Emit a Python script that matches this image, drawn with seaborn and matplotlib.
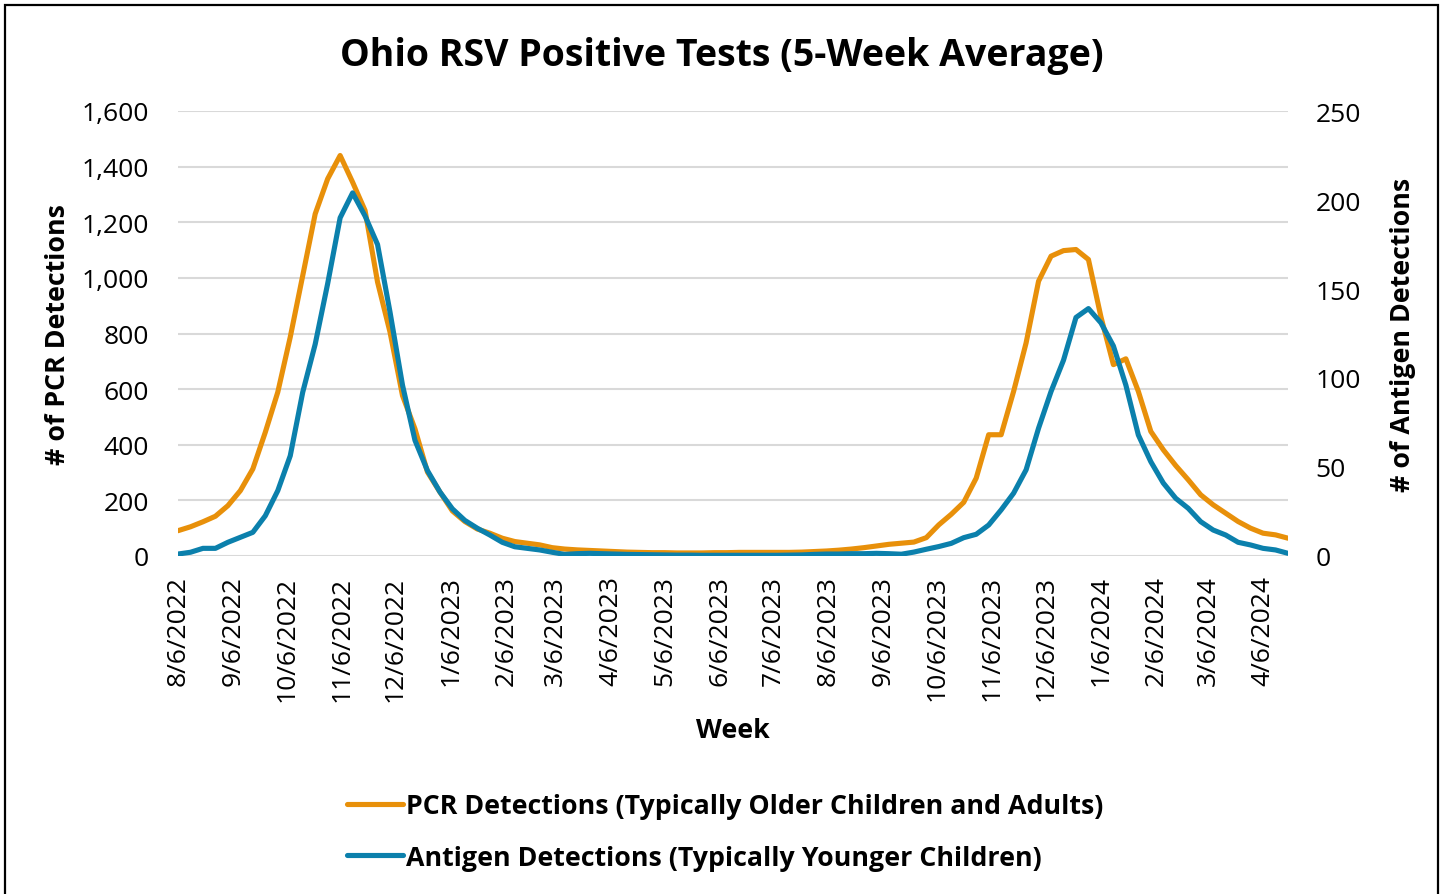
import matplotlib
matplotlib.use("Agg")
import matplotlib.pyplot as plt
import matplotlib.dates as mdates
from matplotlib.patches import Rectangle
from matplotlib.ticker import FuncFormatter, MultipleLocator
import seaborn as sns
import pandas as pd
import numpy as np

# ---- data (weekly, starting 8/6/2022) ----
start_date = "2022-08-06"
pcr = [91, 105, 123, 143, 181, 235, 313, 445, 589, 787,
       1008, 1230, 1356, 1440, 1344, 1242, 985, 805, 577, 457,
       302, 230, 162, 124, 97, 82, 64, 52, 46, 40,
       30, 25, 22, 20, 18, 16, 14, 13, 12, 12,
       11, 11, 11, 12, 12, 13, 13, 13, 13, 13,
       14, 16, 18, 21, 25, 30, 36, 42, 46, 50,
       66, 112, 150, 193, 280, 436, 436, 592, 766, 988,
       1078, 1098, 1102, 1066, 860, 688, 709, 592, 448, 382,
       325, 274, 220, 184, 154, 124, 100, 82, 76, 64]
antigen = [1.1, 2.1, 4.3, 4.3, 7.7, 10.5, 13.3, 22.6, 36.7, 56.3,
           92, 119, 153, 190, 204, 191, 175, 137, 96, 65,
           48, 36, 26.5, 20, 15.6, 11.8, 7.7, 5.2, 4.3, 3.4,
           2.1, 0.9, 1.3, 1.5, 1.3, 1.1, 0.9, 0.8, 0.7, 0.6,
           0.5, 0.5, 0.4, 0.4, 0.4, 0.4, 0.4, 0.4, 0.4, 0.5,
           0.6, 0.9, 1.1, 1.1, 1.3, 1.3, 1.5, 1.3, 1.0, 2.2,
           3.8, 5.3, 7.1, 10.3, 12.2, 17.4, 25.9, 35.3, 48.4, 71.8,
           92.4, 110, 134, 139, 131, 118, 96, 68, 53, 41,
           32.4, 26.8, 19.3, 14.6, 11.8, 7.7, 6.2, 4.3, 3.4, 1.5]
pcr_label = "PCR Detections (Typically Older Children and Adults)"
ant_label = "Antigen Detections (Typically Younger Children)"
title = "Ohio RSV Positive Tests (5-Week Average)"

weeks = pd.date_range(start_date, periods=len(pcr), freq="7D")
df = pd.DataFrame({"week": weeks, "pcr": pcr, "antigen": antigen})

ORANGE = "#E8900A"
BLUE = "#0B80AC"
FONT = ["Open Sans", "DejaVu Sans"]

sns.set_style("white")
plt.rcParams["font.family"] = FONT
plt.rcParams["text.color"] = "#000000"

fig = plt.figure(figsize=(14.45, 8.95), dpi=100)
W, H = 1445, 895
ax_left, ax_right, ax_top, ax_bot = 178, 1288, 112, 557
ax = fig.add_axes([ax_left / W, 1 - ax_bot / H, (ax_right - ax_left) / W, (ax_bot - ax_top) / H])
ax2 = ax.twinx()

sns.lineplot(data=df, x="week", y="pcr", ax=ax, color=ORANGE, linewidth=3.7,
             label=pcr_label, legend=False)
sns.lineplot(data=df, x="week", y="antigen", ax=ax2, color=BLUE, linewidth=3.7,
             label=ant_label, legend=False)
for ln in ax.lines + ax2.lines:
    ln.set_solid_joinstyle("round")
    ln.set_solid_capstyle("round")

ax.set_ylim(0, 1600)
ax2.set_ylim(0, 250)
ax.yaxis.set_major_locator(MultipleLocator(200))
ax2.yaxis.set_major_locator(MultipleLocator(50))
ax.set_xlim(weeks[0], weeks[-1])

ax.xaxis.set_major_locator(mdates.MonthLocator(bymonthday=6))
ax.xaxis.set_major_formatter(FuncFormatter(
    lambda v, p: (lambda d: f"{d.month}/{d.day}/{d.year}")(mdates.num2date(v))))

ax.yaxis.set_major_formatter(FuncFormatter(lambda v, p: f"{int(v):,}"))
ax2.yaxis.set_major_formatter(FuncFormatter(lambda v, p: f"{int(v)}"))

ax.grid(axis="y", color="#D9D9D9", linewidth=1.5)
ax.grid(axis="x", visible=False)
ax2.grid(False)
ax.set_axisbelow(True)
for a in (ax, ax2):
    for s in a.spines.values():
        s.set_visible(False)
    a.set_xlabel("")
    a.set_ylabel("")

TS = 19
LS = 19.3
ax.tick_params(axis="y", length=0, pad=21, labelsize=TS, labelcolor="#000000")
ax2.tick_params(axis="y", length=0, pad=20, labelsize=TS, labelcolor="#000000")
ax.tick_params(axis="x", length=0, pad=14, labelsize=TS, labelrotation=90, labelcolor="#000000")

fig.text(722 / W, 1 - 56 / H, title, ha="center", va="center",
         fontsize=27, fontweight="bold", color="#000000")
fig.text(58 / W, 1 - 335 / H, "# of PCR Detections", rotation=90, ha="center",
         va="center", fontsize=LS, fontweight="bold", color="#000000")
fig.text(1403 / W, 1 - 335 / H, "# of Antigen Detections", rotation=90, ha="center",
         va="center", fontsize=LS, fontweight="bold", color="#000000")
fig.text(733 / W, 1 - 731 / H, "Week", ha="center", va="center",
         fontsize=LS, fontweight="bold", color="#000000")

handles = ax.get_lines()[:1] + ax2.get_lines()[:1]
leg = fig.legend(handles, [pcr_label, ant_label], loc="center",
                 bbox_to_anchor=(725 / W, 1 - 833 / H), ncol=1, frameon=False,
                 prop={"family": FONT, "weight": "bold", "size": LS},
                 handlelength=2.1, handletextpad=0.1, labelspacing=0.95)
for t in leg.get_texts():
    t.set_color("#000000")

fig.patches.append(Rectangle((4.5 / W, -0.01), (1438 - 4.5) / W, 1 - 6 / H + 0.01,
                             transform=fig.transFigure, fill=False,
                             edgecolor="#000000", linewidth=1.6))

fig.savefig("out.png", dpi=100)
